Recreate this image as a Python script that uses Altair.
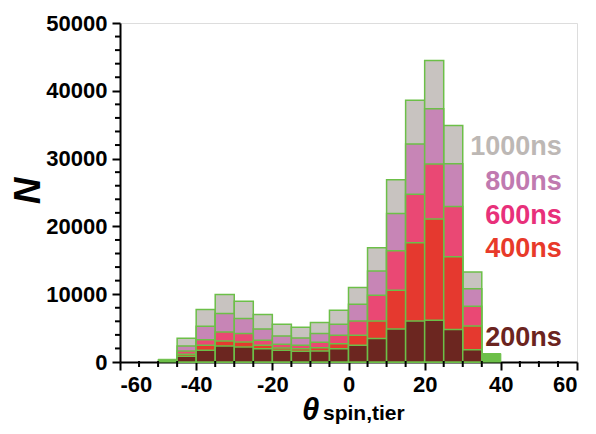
import altair as alt
import pandas as pd

bin_starts = [-45, -40, -35, -30, -25, -20, -15, -10, -5, 0, 5, 10, 15, 20, 25, 30]
n1000 = [3500, 7740, 9960, 8970, 7000, 5570, 5130, 5820, 7640, 11000, 16860, 26870, 38600, 44470, 34900, 13260]
n800 = [2370, 5280, 7150, 6410, 4880, 3850, 3550, 4190, 5570, 8530, 13410, 21890, 32140, 37370, 29230, 10800]
n600 = [1630, 3300, 4440, 4190, 3200, 2610, 2470, 2900, 3940, 6060, 9860, 16420, 24750, 29190, 22920, 8230]
n400 = [1130, 2470, 3100, 2960, 2470, 2070, 1970, 2120, 2710, 3940, 6060, 10600, 17600, 21100, 15530, 5320]
n200 = [840, 1730, 2370, 2220, 1970, 1730, 1580, 1630, 1970, 2470, 3450, 4880, 6060, 6160, 4780, 1820]
edge_starts = [-50, 35]
edge_vals = [400, 1250]

series_names = ["1000ns", "800ns", "600ns", "400ns", "200ns"]
fill_colors = ["#c8c3c0", "#c785b6", "#ea4874", "#e5392f", "#6c2620"]
text_colors = ["#bdb8b5", "#c07ab0", "#e8307a", "#e83a2a", "#6b2420"]
label_y = [31700, 26550, 21530, 16670, 3540]
edge_green = "#6cbf48"

x_scale = alt.Scale(domain=[-60, 60], nice=False, zero=False)
y_scale = alt.Scale(domain=[0, 50000], nice=False)

FONT = "Liberation Sans"

x_axis = alt.Axis(values=[-60, -40, -20, 0, 20, 40, 60], title=None, labelFontSize=22,
                  labelFontWeight="bold", labelFont=FONT, labelColor="black",
                  labelExpr="datum.value + ''",
                  tickSize=8, tickWidth=2, tickColor="black", domainColor="black",
                  domainWidth=2, labelPadding=4, grid=False)
y_axis = alt.Axis(values=[0, 10000, 20000, 30000, 40000, 50000], title=None, labelFontSize=22,
                  labelFontWeight="bold", labelFont=FONT, labelColor="black",
                  labelExpr="datum.value + ''",
                  tickSize=8, tickWidth=2, tickColor="black", domainColor="black",
                  domainWidth=2, labelPadding=5, grid=False)


def X(field):
    return alt.X(field, scale=x_scale, axis=x_axis)


def Y(field):
    return alt.Y(field, scale=y_scale, axis=y_axis)


layers = []
all_series = [n1000, n800, n600, n400, n200]
for i, (name, vals) in enumerate(zip(series_names, all_series)):
    df = pd.DataFrame({"start": bin_starts, "end": [b + 5 for b in bin_starts], "n": vals, "series": name})
    layers.append(alt.Chart(df).mark_rect(fill=fill_colors[i], stroke=edge_green, strokeWidth=1.5).encode(
        x=X("start:Q"), x2="end:Q", y=Y("n:Q"), y2=alt.datum(0)))

edge_df = pd.DataFrame({"start": edge_starts, "end": [b + 5 for b in edge_starts], "n": edge_vals})
layers.append(alt.Chart(edge_df).mark_rect(fill=edge_green, stroke=edge_green, strokeWidth=1).encode(
    x=X("start:Q"), x2="end:Q", y=Y("n:Q"), y2=alt.datum(0)))

# minor ticks
minor_y = [v for v in range(2000, 50000, 2000) if v % 10000 != 0]
minor_x = [v for v in range(-55, 60, 5) if v % 20 != 0]
layers.append(alt.Chart(pd.DataFrame({"v": minor_y})).mark_rule(color="black", strokeWidth=2).encode(
    y=Y("v:Q"), x=alt.value(-5), x2=alt.value(1)))
layers.append(alt.Chart(pd.DataFrame({"v": minor_x})).mark_rule(color="black", strokeWidth=2).encode(
    x=X("v:Q"), y=alt.value(338), y2=alt.value(344)))

# series labels
lab_df = pd.DataFrame({"x": [56] * 5, "y": label_y, "label": series_names, "c": text_colors})
layers.append(alt.Chart(lab_df).mark_text(align="right", baseline="middle", fontSize=27,
                                          fontWeight="bold", font=FONT).encode(
    x=X("x:Q"), y=Y("y:Q"),
    text="label:N", color=alt.Color("c:N", scale=None)))

# y-axis title
layers.append(alt.Chart(pd.DataFrame({"t": ["N"]})).mark_text(
    align="center", baseline="middle", fontSize=37, fontWeight="bold", fontStyle="italic",
    angle=270, font=FONT, color="black").encode(x=alt.value(-91), y=alt.value(168), text="t:N"))

# x-axis title
layers.append(alt.Chart(pd.DataFrame({"t": ["θ"]})).mark_text(
    align="left", baseline="alphabetic", fontSize=31, fontWeight="bold", fontStyle="italic",
    font=FONT, color="black").encode(x=alt.value(182), y=alt.value(397), text="t:N"))
layers.append(alt.Chart(pd.DataFrame({"t": ["spin,tier"]})).mark_text(
    align="left", baseline="alphabetic", fontSize=21, fontWeight="bold",
    font=FONT, color="black").encode(x=alt.value(203), y=alt.value(397), text="t:N"))

chart = alt.layer(*layers).properties(
    width=457, height=339,
    autosize=alt.AutoSizeParams(type="none"),
    padding={"left": 112, "top": 15, "right": 11, "bottom": 64},
).configure_view(stroke="black", strokeWidth=2).configure(background="white")

chart.save("out.html", embed_options={"renderer": "svg", "actions": False})
